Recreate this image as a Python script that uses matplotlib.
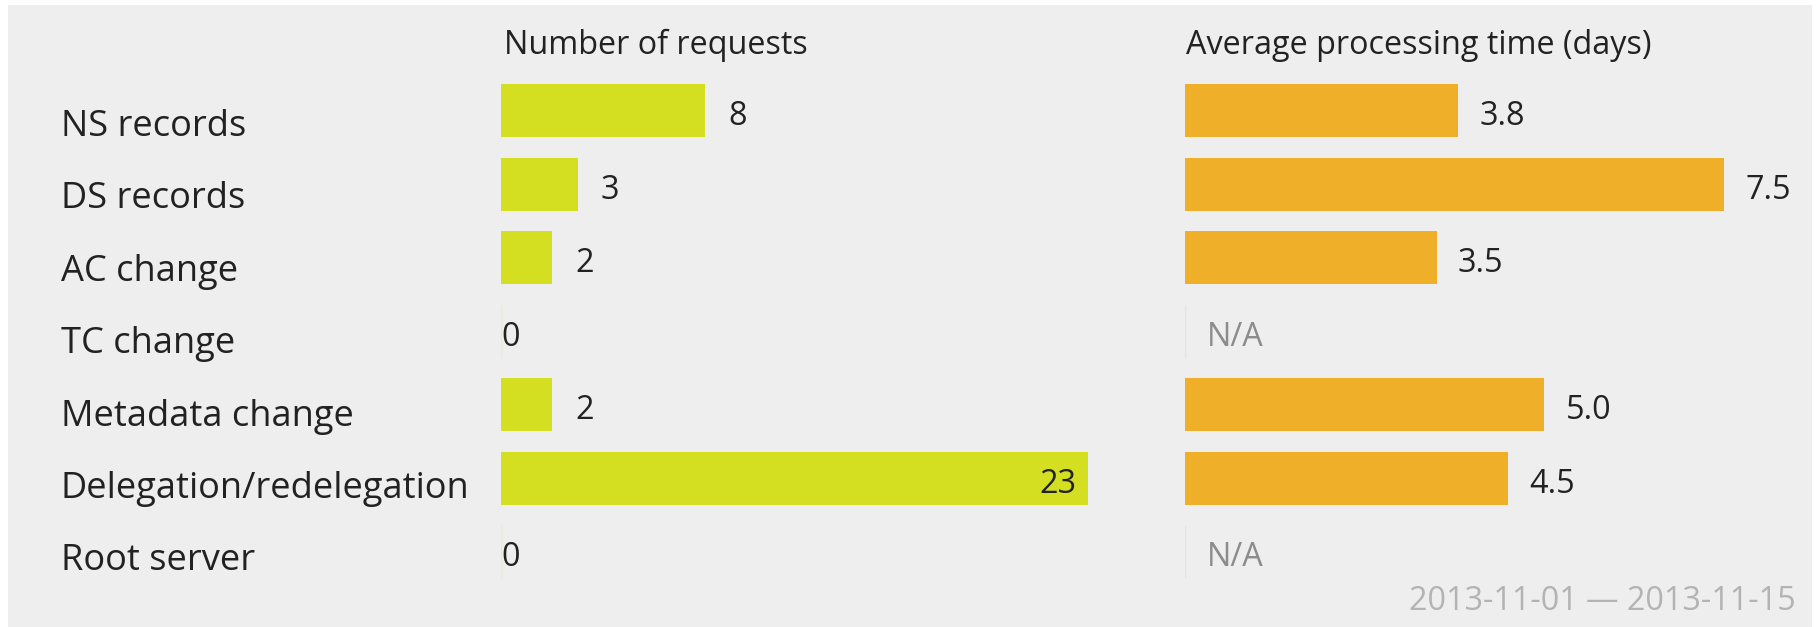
import numpy as np
import matplotlib
matplotlib.use("Agg")
import matplotlib.pyplot as plt
from matplotlib.patches import Rectangle
from matplotlib.transforms import offset_copy

plt.rcParams['font.family'] = ['Open Sans', 'DejaVu Sans']

categories = ["NS records", "DS records", "AC change", "TC change",
              "Metadata change", "Delegation/redelegation", "Root server"]
requests = [8, 3, 2, 0, 2, 23, 0]
avg_days = [3.8, 7.5, 3.5, None, 5.0, 4.5, None]
date_range = "2013-11-01 \u2014 2013-11-15"

green = "#d5df21"
orange = "#f0af29"
bg = "#eeeeee"
dark = "#222222"
fs = 23.3

W, H = 1818, 627
fig = plt.figure(figsize=(W / 100, H / 100), dpi=100)
fig.patch.set_facecolor("white")
fig.patches.append(Rectangle((8 / W, 0), (1812 - 8) / W, (H - 5) / H,
                             transform=fig.transFigure, facecolor=bg,
                             edgecolor="none", zorder=-5))

# axes placement (pixels -> figure fraction)
top_px, bot_px = 74, 588.5
ax_b = 1 - bot_px / H
ax_h = (bot_px - top_px) / H
ax1 = fig.add_axes([501 / W, ax_b, 612 / W, ax_h])
ax2 = fig.add_axes([1185 / W, ax_b, 611 / W, ax_h])
# labels sit on a slightly tighter pitch than the bars
ax0 = fig.add_axes([61 / W, 1 - 592.7 / H, 420 / W, (592.7 - 85.5) / H])

y = np.arange(len(categories))
bh = 0.725

for ax in (ax0, ax1, ax2):
    ax.set_facecolor("none")
    ax.set_ylim(len(categories) - 0.5, -0.5)
    ax.set_axis_off()

ax0.set_xlim(0, 1)
ax1.set_xlim(0, 24)
ax2.set_xlim(0, 8.5)

dy = -6

# left: number of requests
ax1.barh(y, requests, height=bh, color=green, edgecolor="none")
for i, v in enumerate(requests):
    if v == 0:
        ax1.vlines(0, i - bh / 2, i + bh / 2, color="#e9ecc8", lw=1)
        ax1.text(0, i, "0", va="center", ha="left", fontsize=fs, color=dark,
                 transform=offset_copy(ax1.transData, fig=fig, x=0, y=dy, units="dots"))
    elif v > 20:
        ax1.text(v, i, str(v), va="center", ha="right", fontsize=fs, color=dark,
                 transform=offset_copy(ax1.transData, fig=fig, x=-11, y=dy, units="dots"))
    else:
        ax1.text(v, i, str(v), va="center", ha="left", fontsize=fs, color=dark,
                 transform=offset_copy(ax1.transData, fig=fig, x=23, y=dy, units="dots"))

# right: average processing time
vals = [v if v is not None else 0 for v in avg_days]
ax2.barh(y, vals, height=bh, color=orange, edgecolor="none")
for i, v in enumerate(avg_days):
    if v is None:
        ax2.vlines(0, i - bh / 2, i + bh / 2, color="#ece3d0", lw=1)
        ax2.text(0, i, "N/A", va="center", ha="left", fontsize=fs, color="#8c8c8c",
                 transform=offset_copy(ax2.transData, fig=fig, x=22, y=dy, units="dots"))
    else:
        ax2.text(v, i, f"{v:.1f}", va="center", ha="left", fontsize=fs, color=dark,
                 transform=offset_copy(ax2.transData, fig=fig, x=21, y=dy, units="dots"))

# row labels
lab_tr = offset_copy(ax0.transData, fig=fig, x=0, y=-5, units="dots")
for i, c in enumerate(categories):
    ax0.text(0, i, c, va="center", ha="left", fontsize=26.1, color=dark,
             transform=lab_tr)

# headers
fig.text(504 / W, 1 - 45.5 / H, "Number of requests", va="center", ha="left",
         fontsize=fs, color=dark)
fig.text(1186 / W, 1 - 45.5 / H, "Average processing time (days)", va="center",
         ha="left", fontsize=fs, color=dark)

fig.text(1796 / W, 1 - 601.5 / H, date_range, va="center", ha="right",
         fontsize=fs, color="#b3b3b3")

fig.savefig("out.png", dpi=100, facecolor=fig.get_facecolor())
